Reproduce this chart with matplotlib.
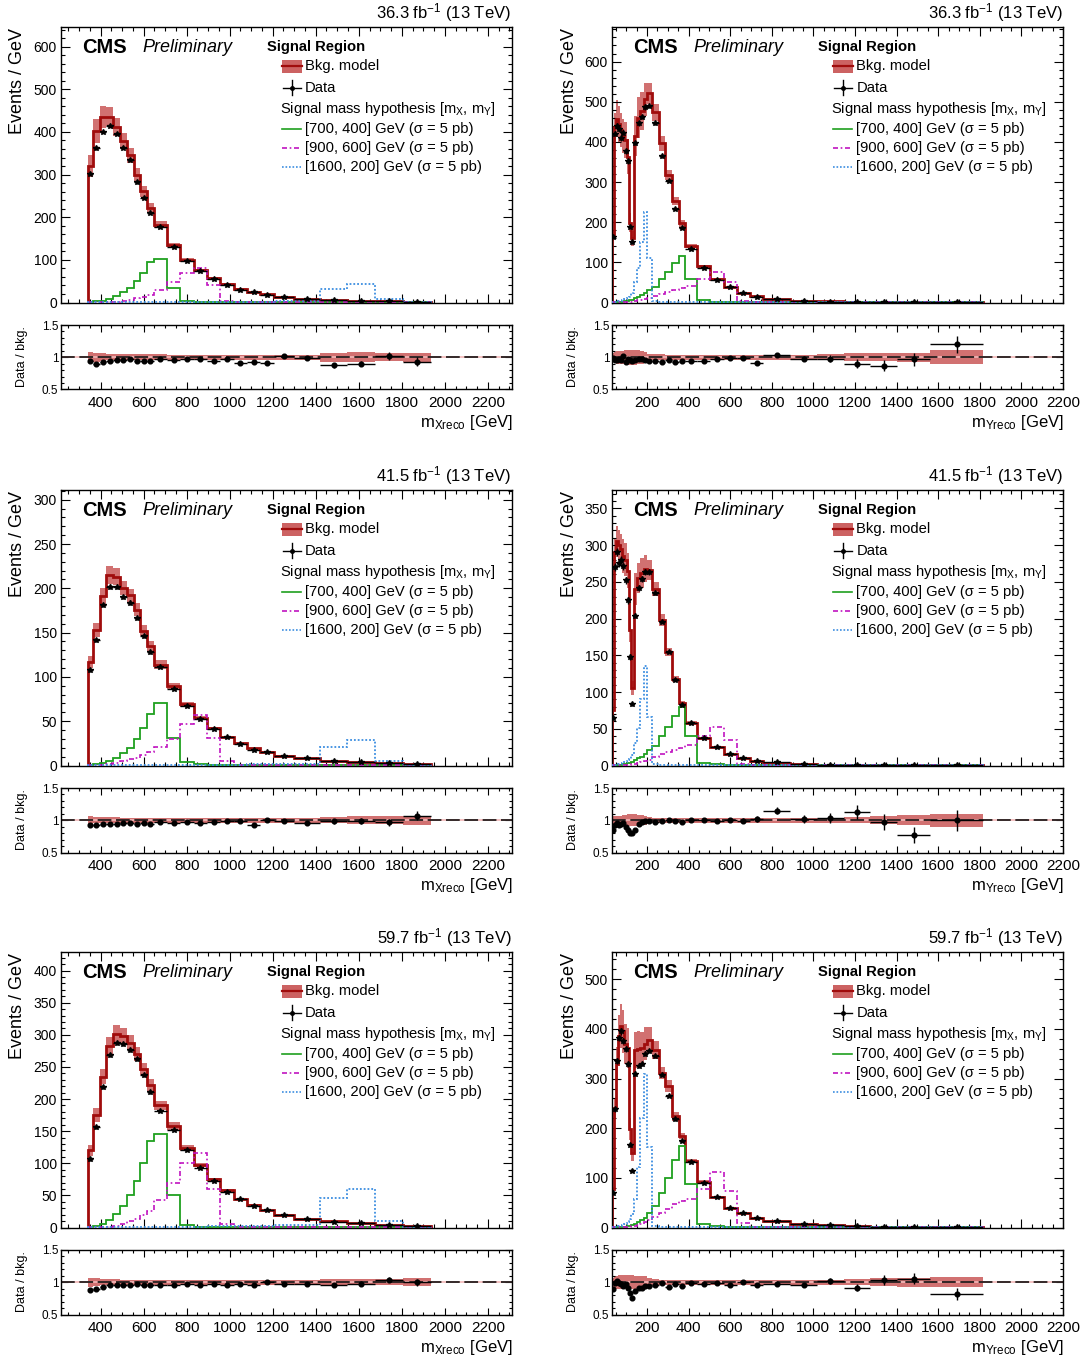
import numpy as np
import matplotlib
matplotlib.use('Agg')
import matplotlib.pyplot as plt
from matplotlib.patches import Rectangle
from matplotlib.lines import Line2D
from matplotlib.ticker import MultipleLocator, FixedLocator

plt.rcParams['font.family'] = ['Liberation Sans', 'DejaVu Sans']
plt.rcParams['mathtext.fontset'] = 'custom'
plt.rcParams['mathtext.rm'] = 'Liberation Sans'
plt.rcParams['mathtext.it'] = 'Liberation Sans:italic'
plt.rcParams['mathtext.bf'] = 'Liberation Sans:bold'

W, H = 1085, 1362

BAND = '#cc6262'
BKG_LINE = '#a00c0c'
GREEN = '#1fa01f'
MAGENTA = '#c014c0'
BLUE = '#3c8ee0'
DASHDOT = (0, (3, 1.6, 1, 1.6))
DOTTED = (0, (1, 1.1))

# ---- binning ----
mx_edges = [340, 364, 395, 427, 459, 491, 522, 553, 584, 615, 646, 708, 770, 832, 894,
            956, 1018, 1080, 1142, 1204, 1300, 1420, 1546, 1675, 1805, 1935]
my_edges = [32, 42, 52, 62, 72, 82, 92, 102, 112, 122, 136, 152, 168, 184, 200, 224, 256,
            288, 320, 352, 384, 440, 504, 568, 632, 696, 760, 889, 1018, 1146, 1274, 1402,
            1562, 1817]

# ---- m_X, 2016 ----
mx16_bkg = [321, 402, 435, 436, 412, 378, 345, 300, 261, 222, 182, 135, 100, 76, 57, 43.5,
            32, 25.5, 20, 13.6, 8, 5.5, 4, 2.5, 1.5]
mx16_data = [302, 362, 400, 414, 396, 363, 335, 282, 245, 209, 178, 130, 97, 74, 54, 42,
             29, 23.5, 18.2, 13.9, 7.9, 4.8, 3.6, 2.55, 1.4]
mx16_unc = [0.08, 0.07, 0.06, 0.05, 0.05, 0.05, 0.05, 0.05, 0.05, 0.05, 0.045, 0.04, 0.04,
            0.04, 0.04, 0.04, 0.04, 0.035, 0.035, 0.04, 0.04, 0.07, 0.08, 0.06, 0.07]
mx16_s700 = [0.5, 2.5, 4, 8, 15, 24, 35, 51, 70, 94, 102, 35, 2.5, 1, 0.5, 0.4, 0.3, 0.3,
             0.3, 0.3, 0.3, 0.2, 0.2, 0.2, 0.2]
mx16_s900 = [0.2, 0.4, 0.7, 1, 2, 4, 7, 10, 13, 17, 30, 49, 70, 81, 42, 4, 1, 0.5, 0.4,
             0.3, 0.3, 0.3, 0.2, 0.2, 0.2]
mx16_s1600 = [0.1, 0.1, 0.2, 0.2, 0.3, 0.3, 0.4, 0.5, 0.5, 0.6, 0.7, 0.8, 0.9, 1, 1.2,
              1.4, 1.6, 1.8, 2, 2.5, 3, 31, 43, 7.5, 1]

# ---- m_X, 2017 ----
mx17_bkg = [117, 153, 191, 215, 213, 200, 192, 176, 152, 135, 114, 90, 69, 54, 42, 32.6,
            25, 19.4, 15.3, 11, 8.4, 5.3, 3.8, 2.5, 1.6]
mx17_data = [108, 142, 181, 202, 202, 190, 184, 167, 146, 128, 111, 86, 67, 52, 41, 32,
             24.8, 18.0, 15.3, 10.8, 8.1, 5.2, 3.76, 2.43, 1.71]
mx17_unc = [0.06, 0.05, 0.05, 0.045, 0.045, 0.04, 0.04, 0.04, 0.04, 0.04, 0.04, 0.035,
            0.035, 0.035, 0.035, 0.035, 0.035, 0.035, 0.035, 0.04, 0.04, 0.05, 0.06, 0.06,
            0.07]
mx17_s700 = [0.5, 1.5, 3, 5.4, 8.4, 13.6, 20, 30, 42, 58, 70.5, 30.6, 4.3, 1.5, 0.5, 0.3,
             0.3, 0.2, 0.2, 0.2, 0.2, 0.2, 0.1, 0.1, 0.1]
mx17_s900 = [0.1, 0.3, 1, 2, 3, 5, 7, 9, 12, 15, 20.5, 30, 47, 57, 30.6, 5, 1, 0.5, 0.3,
             0.3, 0.2, 0.2, 0.1, 0.1, 0.1]
mx17_s1600 = [0.1, 0.1, 0.1, 0.2, 0.2, 0.2, 0.3, 0.3, 0.4, 0.4, 0.5, 0.6, 0.6, 0.7, 0.8,
              1, 1.1, 1.2, 1.4, 1.7, 2, 21, 29, 5, 0.7]

# ---- m_X, 2018 ----
mx18_bkg = [120, 175, 235, 283, 302, 298, 288, 270, 247, 222, 190, 158, 124, 97, 75, 58,
            45, 35, 27, 20, 14, 9.5, 6.5, 4.2, 2.8]
mx18_data = [106, 156, 219, 269, 287, 286, 276, 262, 237, 211, 182, 152, 120, 93, 72.8,
             55.1, 43.7, 33.6, 27, 19.4, 13.7, 9.1, 6.37, 4.37, 2.8]
mx18_unc = [0.07, 0.06, 0.05, 0.05, 0.045, 0.04, 0.04, 0.04, 0.04, 0.04, 0.04, 0.035,
            0.035, 0.035, 0.035, 0.035, 0.035, 0.035, 0.035, 0.04, 0.04, 0.05, 0.05, 0.05,
            0.06]
mx18_s700 = [0.7, 3, 6, 11, 21, 34, 50, 73, 100, 134, 146, 50, 3.5, 1.4, 0.7, 0.5, 0.4,
             0.4, 0.4, 0.4, 0.4, 0.3, 0.3, 0.3, 0.3]
mx18_s900 = [0.3, 0.6, 1, 1.5, 3, 6, 10, 14, 19, 25, 43, 70, 100, 116, 60, 6, 1.4, 0.7,
             0.5, 0.4, 0.4, 0.4, 0.3, 0.3, 0.3]
mx18_s1600 = [0.1, 0.1, 0.2, 0.3, 0.4, 0.4, 0.5, 0.6, 0.7, 0.8, 1, 1.1, 1.3, 1.4, 1.7, 2,
              2.3, 2.6, 2.9, 3.5, 4.3, 46, 60, 10, 1.5]

# ---- m_Y, 2016 ----
my16_bkg = [166, 437, 458, 445, 430, 415, 405, 363, 199, 160, 415, 460, 476, 506, 521, 474,
            396, 318, 253, 197, 141, 90, 58, 38.6, 24.4, 16, 8.5, 4.6, 2.5, 1.4, 0.9, 0.6,
            0.25]
my16_data = [164, 420, 440, 432, 409, 423, 377, 352, 189, 150, 398, 446, 462, 486, 490, 446,
             364, 302, 233, 185, 133, 85, 56, 38, 24, 14.6, 8.75, 4.5, 2.44, 1.26, 0.78,
             0.58, 0.3]
my16_unc = [0.07, 0.08, 0.10, 0.10, 0.10, 0.10, 0.11, 0.12, 0.12, 0.12, 0.12, 0.11, 0.10,
            0.08, 0.05, 0.045, 0.045, 0.04, 0.04, 0.04, 0.04, 0.04, 0.04, 0.04, 0.04, 0.04,
            0.04, 0.04, 0.045, 0.06, 0.06, 0.07, 0.11]
my16_s700 = [0.5, 0.5, 0.6, 0.8, 1, 2, 3, 4, 5, 7, 10, 14, 18, 23, 30, 39, 58, 77, 99, 116,
             58, 6, 2, 1, 0.6, 0.4, 0.3, 0.2, 0.2, 0.1, 0.1, 0.1, 0.1]
my16_s900 = [0.2, 0.3, 0.4, 0.5, 0.6, 0.8, 1, 1.2, 1.5, 2, 3, 5, 7, 9, 12, 17, 22, 26, 30,
             35, 40, 58, 75, 50, 3, 1, 0.5, 0.3, 0.2, 0.2, 0.1, 0.1, 0.1]
my16_s1600 = [0.5, 1, 2, 3, 4, 6, 9, 12, 14, 23, 50, 85, 151, 226, 110, 3, 1, 0.6, 0.4,
              0.3, 0.3, 0.2, 0.2, 0.2, 0.1, 0.1, 0.1, 0.1, 0.1, 0.1, 0.1, 0.1, 0.1]

# ---- m_Y, 2017 ----
my17_bkg = [75, 290, 305, 300, 295, 285, 280, 265, 185, 105, 240, 255, 262, 268, 266, 240,
            198, 155, 118, 85, 58, 38, 25, 16, 10, 6.2, 3.6, 2.1, 1.3, 0.8, 0.5, 0.35, 0.15]
my17_data = [64, 270, 290, 276, 280, 271, 252, 225, 148, 84, 204, 242, 254, 263, 263, 235,
             196, 155, 117, 83, 58, 38, 24.8, 16, 9.9, 6.3, 4.14, 2.14, 1.35, 0.9, 0.49,
             0.27, 0.15]
my17_unc = [0.07, 0.07, 0.07, 0.07, 0.07, 0.08, 0.08, 0.09, 0.09, 0.09, 0.09, 0.08, 0.08,
            0.07, 0.05, 0.04, 0.04, 0.035, 0.035, 0.035, 0.035, 0.035, 0.035, 0.035, 0.035,
            0.035, 0.035, 0.035, 0.04, 0.05, 0.06, 0.08, 0.10]
my17_s700 = [0.3, 0.3, 0.4, 0.6, 0.7, 1.4, 2, 2.8, 3.5, 5, 7, 10, 12, 16, 21, 27, 40, 53,
             68, 80, 40, 4, 1.4, 0.7, 0.4, 0.3, 0.2, 0.1, 0.1, 0.1, 0.1, 0.1, 0.1]
my17_s900 = [0.1, 0.2, 0.3, 0.3, 0.4, 0.6, 0.7, 0.8, 1, 1.4, 2, 3.5, 5, 6, 8, 12, 15, 18,
             21, 24, 28, 40, 52, 35, 2, 0.7, 0.3, 0.2, 0.1, 0.1, 0.1, 0.1, 0.1]
my17_s1600 = [0.3, 0.6, 1.2, 1.8, 2.4, 3.6, 5.4, 7, 8.4, 14, 30, 51, 91, 136, 66, 2, 0.6,
              0.4, 0.2, 0.2, 0.2, 0.1, 0.1, 0.1, 0.1, 0.1, 0.1, 0.1, 0.1, 0.1, 0.1, 0.1,
              0.1]

# ---- m_Y, 2018 ----
my18_bkg = [77, 240, 330, 385, 406, 395, 370, 362, 198, 150, 358, 360, 362, 370, 378, 358,
            311, 285, 224, 184, 134, 92, 62, 40, 29, 20, 13, 7.2, 4.2, 2.3, 1.4, 0.9, 0.33]
my18_data = [69, 238, 335, 382, 395, 375, 360, 330, 166, 114, 310, 326, 330, 350, 355, 345,
             308, 265, 218, 174, 132, 89, 61, 38.5, 29, 19, 12.6, 6.9, 4.3, 2.1, 1.45, 0.95,
             0.27]
my18_unc = [0.07, 0.09, 0.10, 0.11, 0.11, 0.11, 0.11, 0.11, 0.11, 0.11, 0.10, 0.10, 0.09,
            0.09, 0.07, 0.05, 0.04, 0.04, 0.04, 0.035, 0.035, 0.035, 0.035, 0.035, 0.035,
            0.035, 0.035, 0.035, 0.04, 0.05, 0.06, 0.07, 0.08]
my18_s700 = [1, 1, 1, 1, 1.2, 1.5, 2, 3, 4, 6, 8, 11, 15, 20, 29, 44, 69, 100, 136, 164, 88,
             7, 3, 1.5, 0.8, 0.5, 0.4, 0.3, 0.2, 0.2, 0.1, 0.1, 0.1]
my18_s900 = [0.3, 0.4, 0.5, 0.6, 0.8, 1, 1.3, 1.6, 2, 3, 4, 6, 8, 11, 16, 22, 30, 38, 48,
             53, 58, 78, 112, 74, 10, 2, 0.8, 0.4, 0.3, 0.2, 0.2, 0.1, 0.1]
my18_s1600 = [1, 1.5, 2, 3, 3, 5, 8, 12, 17, 28, 58, 121, 221, 310, 162, 4, 1.5, 0.8, 0.5,
              0.4, 0.3, 0.3, 0.2, 0.2, 0.2, 0.1, 0.1, 0.1, 0.1, 0.1, 0.1, 0.1, 0.1]

lumis = ['36.3', '41.5', '59.7']


def px_axes(fig, left, top, width, height):
    return fig.add_axes([left / W, 1 - (top + height) / H, width / W, height / H])


def style_axis(ax, main=True):
    for s in ax.spines.values():
        s.set_linewidth(1.0)
    ax.tick_params(which='both', direction='in', top=True, right=True, width=0.8)
    if main:
        ax.tick_params(which='major', length=6.5)
        ax.tick_params(which='minor', length=3.2)
    else:
        ax.tick_params(which='major', length=5)
        ax.tick_params(which='minor', length=2.5)


def draw(fig, row, col, edges, bkg, data, unc, s700, s900, s1600, xlim, ymax, ystep):
    edges = np.array(edges, dtype=float)
    bkg = np.array(bkg, dtype=float)
    data = np.array(data, dtype=float)
    unc = np.array(unc, dtype=float)
    widths = np.diff(edges)
    centers = 0.5 * (edges[1:] + edges[:-1])
    derr = np.sqrt(data * widths) / widths

    left = [61, 612][col]
    width = [450.5, 451][col]
    mtop = [27, 490, 952][row]
    rtop = [325, 788, 1250][row]

    ax = px_axes(fig, left, mtop, width, 275.5)
    ax.stairs(bkg * (1 + unc), edges, baseline=bkg * (1 - unc), fill=True,
              color=BAND, alpha=0.9, lw=0, zorder=1)
    ax.stairs(bkg, edges, baseline=0, color=BKG_LINE, lw=2.0, zorder=2)
    ax.stairs(s700, edges, baseline=0, color=GREEN, lw=1.3, zorder=3)
    ax.stairs(s900, edges, baseline=0, color=MAGENTA, lw=1.2, linestyle=DASHDOT, zorder=3)
    ax.stairs(s1600, edges, baseline=0, color=BLUE, lw=1.3, linestyle=DOTTED, zorder=3)
    ax.errorbar(centers, data, xerr=widths / 2, yerr=derr, fmt='*', ms=4.3, color='k',
                elinewidth=1.0, capsize=0, zorder=4)
    ax.set_xlim(*xlim)
    ax.set_ylim(0, ymax)
    ax.xaxis.set_major_locator(MultipleLocator(200))
    ax.xaxis.set_minor_locator(MultipleLocator(50))
    ax.yaxis.set_major_locator(MultipleLocator(ystep))
    ax.yaxis.set_minor_locator(MultipleLocator(ystep / 5))
    ax.set_xticklabels([])
    style_axis(ax)
    ax.tick_params(axis='y', labelsize=10, pad=3)

    # header texts
    ax.text(0.0466, 0.927, 'CMS', transform=ax.transAxes, fontsize=14.5,
            fontweight='bold', va='center', ha='left')
    ax.text(0.18, 0.925, 'Preliminary', transform=ax.transAxes, fontsize=13,
            style='italic', va='center', ha='left')
    ax.text(1.0, 1.0 + 14 / 275.5, lumis[row] + r' fb$^{-1}$ (13 TeV)',
            transform=ax.transAxes, fontsize=12, ha='right', va='center')

    # legend
    tx = 0.5416
    fs = 10.6
    ax.text(0.457, 0.927, 'Signal Region', transform=ax.transAxes, fontsize=fs,
            fontweight='bold', va='center')
    ax.add_patch(Rectangle((0.490, 0.857 - 0.0235), 0.045, 0.047, transform=ax.transAxes,
                           color=BAND, lw=0))
    ax.add_line(Line2D([0.490, 0.535], [0.857, 0.857], transform=ax.transAxes,
                       color=BKG_LINE, lw=1.6))
    ax.text(tx, 0.857, 'Bkg. model', transform=ax.transAxes, fontsize=fs, va='center')
    ax.add_line(Line2D([0.492, 0.533], [0.779, 0.779], transform=ax.transAxes,
                       color='k', lw=1.0))
    ax.add_line(Line2D([0.5125, 0.5125], [0.752, 0.806], transform=ax.transAxes,
                       color='k', lw=1.0))
    ax.add_line(Line2D([0.5125], [0.779], transform=ax.transAxes, color='k',
                       marker='o', ms=2.5))
    ax.text(tx, 0.779, 'Data', transform=ax.transAxes, fontsize=fs, va='center')
    ax.text(0.486, 0.702, r'Signal mass hypothesis [m$_{\rm X}$, m$_{\rm Y}$]',
            transform=ax.transAxes, fontsize=fs, va='center')
    entries = [('[700, 400] GeV (σ = 5 pb)', GREEN, '-', 0.630),
               ('[900, 600] GeV (σ = 5 pb)', MAGENTA, DASHDOT, 0.561),
               ('[1600, 200] GeV (σ = 5 pb)', BLUE, DOTTED, 0.492)]
    for label, c, ls, yy in entries:
        ax.add_line(Line2D([0.490, 0.533], [yy, yy], transform=ax.transAxes, color=c,
                           lw=1.2, linestyle=ls))
        ax.text(tx, yy, label, transform=ax.transAxes, fontsize=fs, va='center')

    fig.text((left - 43) / W, 1 - (mtop + 1) / H, 'Events / GeV', rotation=90,
             fontsize=13, ha='center', va='top')

    # ratio panel
    rx = px_axes(fig, left, rtop, width, 64.5)
    rx.stairs(1 + unc, edges, baseline=1 - unc, fill=True, color=BAND, alpha=0.9, lw=0,
              zorder=1)
    rx.axhline(1, color='#f2b8b8', lw=1.2, zorder=2)
    rx.axhline(1, color='k', lw=1.1, linestyle=(0, (9, 3)), zorder=3)
    ratio = data / bkg
    rerr = derr / bkg
    rx.errorbar(centers, ratio, xerr=widths / 2, yerr=rerr, fmt='o', ms=3.4, color='k',
                elinewidth=1.0, capsize=0, zorder=4)
    rx.set_xlim(*xlim)
    rx.set_ylim(0.5, 1.5)
    rx.xaxis.set_major_locator(MultipleLocator(200))
    rx.xaxis.set_minor_locator(MultipleLocator(50))
    rx.yaxis.set_major_locator(FixedLocator([0.5, 1.0, 1.5]))
    rx.yaxis.set_minor_locator(MultipleLocator(0.1))
    rx.set_yticklabels(['0.5', '1', '1.5'])
    style_axis(rx, main=False)
    rx.tick_params(axis='y', labelsize=8.5, pad=2)
    rx.tick_params(axis='x', labelsize=11, pad=5)
    fig.text((left - 39) / W, 1 - (rtop + 32) / H, 'Data / bkg.', rotation=90,
             fontsize=9, ha='center', va='center')
    sub = 'Xreco' if col == 0 else 'Yreco'
    fig.text((left + width + 1) / W, 1 - (rtop + 64.5 + 33) / H,
             r'm$_{\rm ' + sub + r'}$ [GeV]', fontsize=12, ha='right', va='center')


fig = plt.figure(figsize=(W / 100, H / 100), dpi=100)

mx_lim = (216, 2310)
my_lim = (32, 2200)

draw(fig, 0, 0, mx_edges, mx16_bkg, mx16_data, mx16_unc, mx16_s700, mx16_s900, mx16_s1600,
     mx_lim, 646, 100)
draw(fig, 1, 0, mx_edges, mx17_bkg, mx17_data, mx17_unc, mx17_s700, mx17_s900, mx17_s1600,
     mx_lim, 311, 50)
draw(fig, 2, 0, mx_edges, mx18_bkg, mx18_data, mx18_unc, mx18_s700, mx18_s900, mx18_s1600,
     mx_lim, 429, 50)
draw(fig, 0, 1, my_edges, my16_bkg, my16_data, my16_unc, my16_s700, my16_s900, my16_s1600,
     my_lim, 686, 100)
draw(fig, 1, 1, my_edges, my17_bkg, my17_data, my17_unc, my17_s700, my17_s900, my17_s1600,
     my_lim, 375, 50)
draw(fig, 2, 1, my_edges, my18_bkg, my18_data, my18_unc, my18_s700, my18_s900, my18_s1600,
     my_lim, 555, 100)

fig.savefig('out.png', dpi=100)
